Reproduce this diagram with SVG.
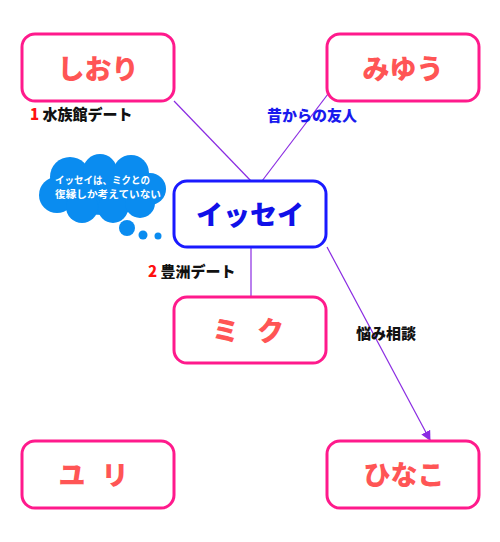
<svg xmlns="http://www.w3.org/2000/svg" width="500" height="542" viewBox="0 0 500 542">
<style>
.box{fill:#fff;stroke:#ff1a8c;stroke-width:3}
.bluebox{fill:#fff;stroke:#1a1aff;stroke-width:3}
.name{font-family:"Noto Sans CJK JP","Noto Sans",sans-serif;font-weight:900;font-size:27px;fill:#ff5555;text-anchor:middle;dominant-baseline:central}
.bname{fill:#1010e8}
.conn{stroke:#8a2be2;stroke-width:1.2;fill:none}
.lbl{font-family:"Noto Sans CJK JP","Noto Sans",sans-serif;font-weight:900;font-size:15px;fill:#111;dominant-baseline:central}
.num{fill:#ff1010}
.blue{fill:#1a1aee}
.cloud{fill:#0a8cf0}
.ctext{font-family:"Noto Sans CJK JP","Noto Sans",sans-serif;font-weight:700;font-size:10px;fill:#fff}
</style>
<defs>
<marker id="arr" viewBox="0 0 10 10" refX="9" refY="5" markerWidth="10" markerHeight="10" markerUnits="userSpaceOnUse" orient="auto">
<path d="M0,0 L10,5 L0,10 z" fill="#8a2be2"/>
</marker>
</defs>
<rect width="500" height="542" fill="#fff"/>
<g id="connectors">
<line class="conn" x1="174" y1="101" x2="251" y2="181"/>
<line class="conn" x1="328" y1="94" x2="262" y2="181"/>
<line class="conn" x1="251" y1="247" x2="251" y2="297"/>
<line class="conn" x1="327" y1="247" x2="430" y2="440" marker-end="url(#arr)"/>
</g>
<g id="labels">
<text class="lbl" x="30" y="113"><tspan class="num">1</tspan> 水族館デート</text>
<text class="lbl blue" x="267" y="114">昔からの友人</text>
<text class="lbl" x="148" y="270"><tspan class="num">2</tspan> 豊洲デート</text>
<text class="lbl" x="356" y="332">悩み相談</text>
</g>
<g id="thought">
<g class="cloud">
<ellipse cx="103" cy="190" rx="56" ry="25"/>
<circle cx="70" cy="177" r="20"/>
<circle cx="100" cy="171" r="17"/>
<circle cx="131" cy="173" r="18"/>
<circle cx="150" cy="189" r="16"/>
<circle cx="57" cy="195" r="18"/>
<circle cx="82" cy="207" r="16"/>
<circle cx="113" cy="208" r="15"/>
<circle cx="140" cy="203" r="15"/>
<circle cx="127" cy="228" r="8"/>
<circle cx="143" cy="235" r="4.5"/>
<circle cx="158" cy="236" r="3.5"/>
</g>
<text class="ctext" x="55" y="184" textLength="95" lengthAdjust="spacingAndGlyphs">イッセイは、ミクとの</text>
<text class="ctext" x="55" y="198" textLength="106" lengthAdjust="spacingAndGlyphs">復縁しか考えていない</text>
</g>
<g id="node-shiori">
<rect class="box" x="22" y="34" width="152" height="67" rx="13"/>
<text class="name" x="98" y="67">しおり</text>
</g>
<g id="node-miyu">
<rect class="box" x="327" y="34" width="152" height="67" rx="13"/>
<text class="name" x="403" y="67">みゆう</text>
</g>
<g id="node-issei">
<rect class="bluebox" x="174" y="181" width="152" height="66" rx="13"/>
<text class="name bname" x="250" y="213">イッセイ</text>
</g>
<g id="node-miku">
<rect class="box" x="174" y="297" width="152" height="66" rx="13"/>
<text class="name" x="251" y="329" letter-spacing="6">ミ ク</text>
</g>
<g id="node-yuri">
<rect class="box" x="22" y="441" width="152" height="67" rx="13"/>
<text class="name" x="96" y="473" letter-spacing="5">ユ リ</text>
</g>
<g id="node-hinako">
<rect class="box" x="327" y="441" width="152" height="67" rx="13"/>
<text class="name" x="404" y="473">ひなこ</text>
</g>
</svg>
